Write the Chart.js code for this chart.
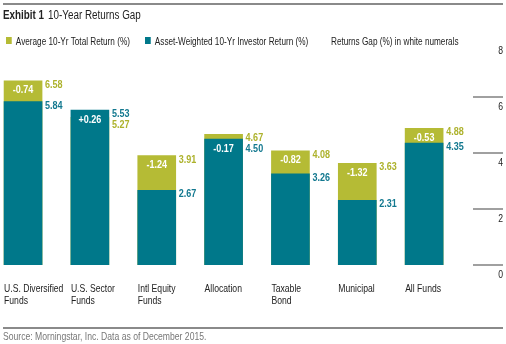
<!DOCTYPE html>
<html>
<head>
<meta charset="utf-8">
<script src="https://cdn.jsdelivr.net/npm/chart.js@4.4.1/dist/chart.umd.min.js"></script>
<style>
  body { margin: 0; background: #fff; font-family: "Liberation Sans", Arial, sans-serif; }
  #wrap { position: relative; width: 506px; height: 344px; overflow: hidden; }
  #grafico { position: absolute; left: 0; top: 0; }
  .regla { position: absolute; left: 3px; width: 500px; height: 2px; background: #8a8a8a; }
  .txt { position: absolute; white-space: nowrap; transform: scaleX(0.82); transform-origin: 0 0; }
  #titulo { left: 3px; top: 8px; font-size: 12px; color: #222; }
  #titulo b { margin-right: 5px; }
  .leyenda { top: 36px; font-size: 10px; color: #222; }
  .leyenda i { display: inline-block; width: 7px; height: 7px; margin-right: 5px; vertical-align: 1px; }
  #fuente { left: 3px; top: 330px; font-size: 10.5px; color: #777; }
</style>
</head>
<body>
<div id="wrap">
  <canvas id="grafico" width="506" height="344"></canvas>
  <div class="regla" style="top:3px"></div>
  <div id="titulo" class="txt"><b>Exhibit 1</b>10-Year Returns Gap</div>
  <div class="leyenda txt" style="left:6px"><i style="background:#b5bb35"></i>Average 10-Yr Total Return (%)</div>
  <div class="leyenda txt" style="left:145px"><i style="background:#00788a"></i>Asset-Weighted 10-Yr Investor Return (%)</div>
  <div class="leyenda txt" style="left:331px">Returns Gap (%) in white numerals</div>
  <div class="regla" style="top:327px"></div>
  <div id="fuente" class="txt">Source: Morningstar, Inc. Data as of December 2015.</div>
</div>
<script>
// datos
const categorias = [
  ["U.S. Diversified", "Funds"],
  ["U.S. Sector", "Funds"],
  ["Intl Equity", "Funds"],
  ["Allocation"],
  ["Taxable", "Bond"],
  ["Municipal"],
  ["All Funds"]
]
const retorno_total = [6.58, 5.27, 3.91, 4.67, 4.08, 3.63, 4.88]
const retorno_inversor = [5.84, 5.53, 2.67, 4.50, 3.26, 2.31, 4.35]
const brecha = ["-0.74", "+0.26", "-1.24", "-0.17", "-0.82", "-1.32", "-0.53"]
const ticks_y = [0, 2, 4, 6, 8]

const verde = "#b5bb35"
const azul = "#00788a"
const fuente = '"Liberation Sans", Arial, sans-serif'

// texto angosto (la fuente original es condensada)
function texto(ctx, str, x, y) {
  ctx.save()
  ctx.translate(x, y)
  ctx.scale(0.82, 1)
  ctx.fillText(str, 0, 0)
  ctx.restore()
}

const etiquetasPlugin = {
  id: "etiquetas",
  afterDatasetsDraw(chart) {
    const { ctx, scales } = chart
    const x = scales.x, y = scales.y
    ctx.save()

    for (let i = 0; i < categorias.length; i++) {
      const cx = x.getPixelForValue(i)
      const izq = cx - 19
      const topVerde = y.getPixelForValue(retorno_total[i])
      const topAzul = y.getPixelForValue(retorno_inversor[i])

      // valores a la derecha de la barra
      ctx.font = "bold 11px " + fuente
      ctx.textAlign = "left"
      ctx.textBaseline = "middle"
      let primero, segundo
      if (topVerde <= topAzul) {
        primero = { v: retorno_total[i], y: topVerde + 4, c: "#adb22c" }
        segundo = { v: retorno_inversor[i], y: topAzul + 4, c: "#12788f" }
      } else {
        primero = { v: retorno_inversor[i], y: topAzul + 4, c: "#12788f" }
        segundo = { v: retorno_total[i], y: topVerde + 4, c: "#adb22c" }
      }
      segundo.y = Math.max(segundo.y, primero.y + 11)
      for (const e of [primero, segundo]) {
        ctx.fillStyle = e.c
        texto(ctx, e.v.toFixed(2), cx + 22, e.y)
      }

      // brecha en blanco
      const seg = topAzul - topVerde
      const yb = seg >= 10 ? topVerde + 9.5 : topAzul + 9.5
      ctx.fillStyle = "#fff"
      ctx.textAlign = "center"
      texto(ctx, brecha[i], cx, yb)

      // nombres de categoria
      ctx.font = "10.5px " + fuente
      ctx.fillStyle = "#222"
      ctx.textAlign = "left"
      categorias[i].forEach((linea, k) => texto(ctx, linea, izq, y.bottom + 24 + k * 12))
    }

    // eje y a la derecha
    ctx.font = "10.5px " + fuente
    ctx.textAlign = "right"
    ctx.strokeStyle = "#a0a0a0"
    ctx.lineWidth = 2
    for (const t of ticks_y) {
      const py = y.getPixelForValue(t)
      if (t < 8) {
        ctx.beginPath()
        ctx.moveTo(473, py)
        ctx.lineTo(503, py)
        ctx.stroke()
      }
      ctx.fillStyle = "#222"
      texto(ctx, String(t), 503, py + 10)
    }
    ctx.restore()
  }
}

const puntos = (arr) => arr.map((v, i) => ({ x: i, y: v }))

new Chart(document.getElementById("grafico").getContext("2d"), {
  type: "bar",
  data: {
    datasets: [
      { label: "Asset-Weighted 10-Yr Investor Return (%)", data: puntos(retorno_inversor), backgroundColor: azul },
      { label: "Average 10-Yr Total Return (%)", data: puntos(retorno_total), backgroundColor: verde }
    ]
  },
  options: {
    responsive: false,
    animation: false,
    events: [],
    layout: { padding: { left: 3, right: 5, top: 41, bottom: 79 } },
    datasets: { bar: { barThickness: 38, grouped: false, borderWidth: 0 } },
    scales: {
      x: { type: "linear", min: -0.3, max: 7.15, offset: false, display: false },
      y: { min: 0, max: 8, display: false }
    },
    plugins: { legend: { display: false }, tooltip: { enabled: false } }
  },
  plugins: [etiquetasPlugin]
})
</script>
</body>
</html>
